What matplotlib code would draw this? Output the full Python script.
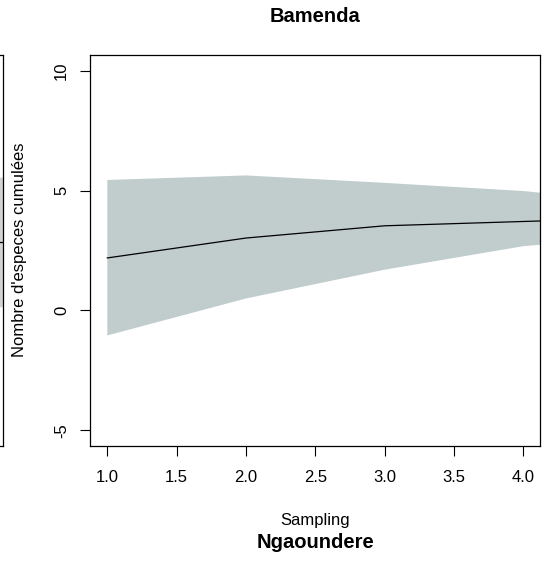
import matplotlib.pyplot as plt

plt.rcParams['font.family'] = ['Liberation Sans', 'DejaVu Sans']

# Courbe d'accumulation (Bamenda)
sampling = [1, 2, 3, 4, 5]
cumul_mean = [2.19, 3.02, 3.53, 3.71, 3.88]
cumul_upper = [5.44, 5.63, 5.32, 4.98, 4.40]
cumul_lower = [-1.04, 0.50, 1.70, 2.68, 3.18]

# Panneau voisin (seulement son bord droit est visible)
voisin_x = [3, 4, 5]
voisin_mean = [2.80, 2.83, 2.86]
voisin_upper = [5.60, 5.56, 5.50]
voisin_lower = [0.00, 0.14, 0.30]

x_ticks = [1.0, 1.5, 2.0, 2.5, 3.0, 3.5, 4.0]
y_ticks = [-5, 0, 5, 10]

fig = plt.figure(figsize=(5.44, 5.61), dpi=100)

# axes principal
ax = fig.add_axes([90 / 544, 115 / 561, 450 / 544, 391 / 561])
ax.fill_between(sampling, cumul_lower, cumul_upper, color='#C1CDCD', lw=0)
ax.plot(sampling, cumul_mean, color='black', lw=0.9)
ax.set_xlim(0.875, 4.12)
ax.set_ylim(-5.65, 10.65)
ax.set_xticks(x_ticks)
ax.set_xticklabels(['%.1f' % v for v in x_ticks])
ax.set_yticks(y_ticks)
ax.set_yticklabels([str(v) for v in y_ticks], rotation=90, va='center')
ax.tick_params(axis='both', length=7.5, width=0.8, labelsize=12, color='black')
ax.tick_params(axis='x', pad=9.5)
ax.tick_params(axis='y', pad=7.5)
for s in ax.spines.values():
    s.set_linewidth(0.9)
    s.set_color('black')

ax.set_title('Bamenda', fontsize=14.5, fontweight='bold', pad=23.5)
fig.text(20 / 544, 1 - 250 / 561, "Nombre d'especes cumulées", fontsize=12,
         rotation=90, ha='center', va='center')
fig.text(315 / 544, 1 - 520 / 561, 'Sampling', fontsize=12, ha='center', va='center')
fig.text(315 / 544, 1 - 543 / 561, 'Ngaoundere', fontsize=14.5, fontweight='bold',
         ha='center', va='center')

# bord du panneau voisin a gauche
ax2 = fig.add_axes([3 / 544 - 450 / 544, 115 / 561, 450 / 544, 391 / 561])
ax2.fill_between(voisin_x, voisin_lower, voisin_upper, color='#D3D3D3', lw=0)
ax2.plot(voisin_x, voisin_mean, color='black', lw=0.9)
ax2.set_xlim(0.875, 4.12)
ax2.set_ylim(-5.65, 10.65)
ax2.set_xticks([])
ax2.set_yticks([])
for s in ax2.spines.values():
    s.set_linewidth(0.9)

plt.savefig('out.png', dpi=100)
